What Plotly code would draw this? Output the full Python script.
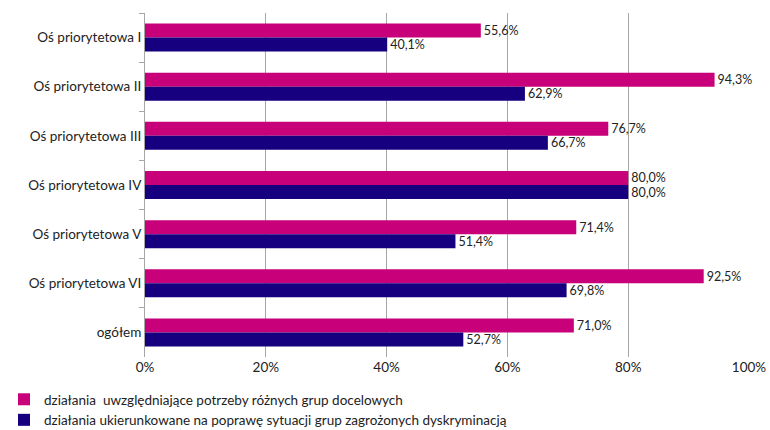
import plotly.graph_objects as go

categories = ["Oś priorytetowa I", "Oś priorytetowa II", "Oś priorytetowa III",
              "Oś priorytetowa IV", "Oś priorytetowa V", "Oś priorytetowa VI", "ogółem"]
series1_name = "działania  uwzględniające potrzeby różnych grup docelowych"
series2_name = "działania ukierunkowane na poprawę sytuacji grup zagrożonych dyskryminacją"
series1 = [55.6, 94.3, 76.7, 80.0, 71.4, 92.5, 71.0]
series2 = [40.1, 62.9, 66.7, 80.0, 51.4, 69.8, 52.7]
tick_vals = [0, 20, 40, 60, 80, 100]
tick_text = ["0%", "20%", "40%", "60%", "80%", "100%"]

def fmt(v):
    return f"{v:.1f}".replace(".", ",") + "%"

FONT = "Lato, Open Sans, sans-serif"
fig = go.Figure()
fig.add_trace(go.Bar(
    y=categories, x=series1, orientation="h", name=series1_name,
    marker=dict(color="#C8007A", line=dict(width=0)),
    text=[fmt(v) for v in series1], textposition="outside",
    textfont=dict(family=FONT, size=12.5, color="#222"),
    cliponaxis=False, constraintext="none",
))
fig.add_trace(go.Bar(
    y=categories, x=series2, orientation="h", name=series2_name,
    marker=dict(color="#160080", line=dict(width=0)),
    text=[fmt(v) for v in series2], textposition="outside",
    textfont=dict(family=FONT, size=12.5, color="#222"),
    cliponaxis=False, constraintext="none",
))
fig.update_layout(
    width=770, height=430,
    margin=dict(l=145, r=21, t=13, b=73, autoexpand=False),
    barmode="group", bargap=0.43, bargroupgap=0,
    plot_bgcolor="white", paper_bgcolor="white",
    font=dict(family=FONT, size=13, color="#222"),
    xaxis=dict(range=[0, 100], tickvals=tick_vals, ticktext=tick_text,
               showgrid=True, gridcolor="#A6A6A6", gridwidth=1,
               zeroline=False, showline=False, automargin=False,
               ticks="", tickfont=dict(size=13.5)),
    yaxis=dict(autorange="reversed", type="category", automargin=False,
               showline=True, linecolor="#A6A6A6", linewidth=1,
               ticks="outside", ticklen=5, tickcolor="#A6A6A6",
               tickson="boundaries", showgrid=False,
               tickfont=dict(size=13.5)),
    showlegend=True,
    legend=dict(orientation="v", xref="container", yref="container",
                x=4 / 770, y=1 - 384 / 430, xanchor="left", yanchor="top",
                font=dict(size=13.5), itemwidth=30, tracegroupgap=0,
                bgcolor="rgba(0,0,0,0)"),
)
fig.write_html("out.html", config={"displayModeBar": False},
               post_script="document.body.style.margin='0px';")
